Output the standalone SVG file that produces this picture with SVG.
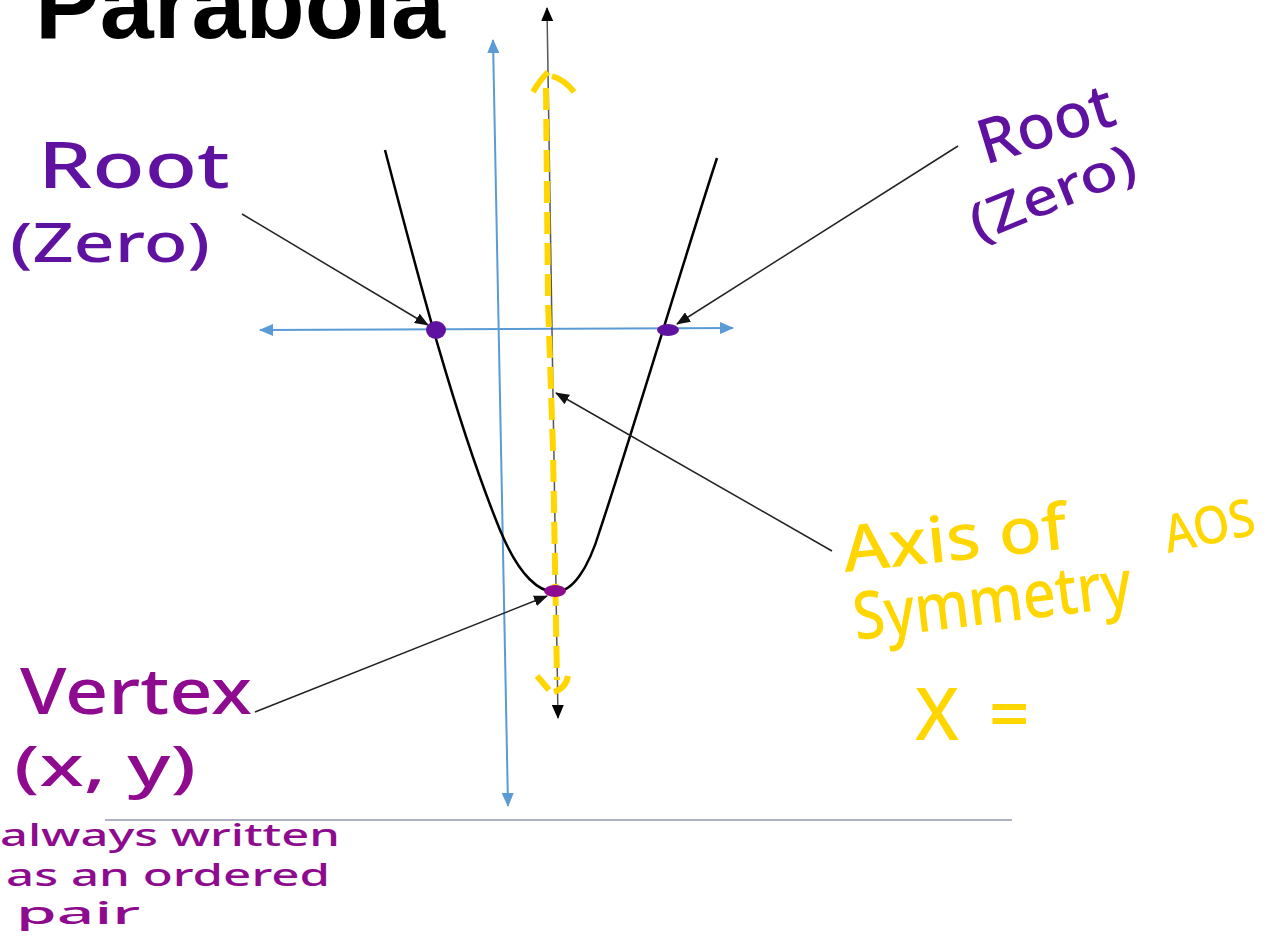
<svg xmlns="http://www.w3.org/2000/svg" width="1273" height="945" viewBox="0 0 1273 945">
<defs>
<marker id="ab" markerWidth="14" markerHeight="12" refX="13" refY="6" orient="auto-start-reverse" markerUnits="userSpaceOnUse"><path d="M0,0 L14,6 L0,12 Z" fill="#5b9bd5"/></marker>
<marker id="ak" markerWidth="14" markerHeight="12" refX="13" refY="6" orient="auto-start-reverse" markerUnits="userSpaceOnUse"><path d="M0,0 L14,6 L0,12 Z" fill="#000"/></marker>
<marker id="ap" markerWidth="14" markerHeight="11" refX="13" refY="5.5" orient="auto" markerUnits="userSpaceOnUse"><path d="M0,0 L14,5.5 L0,11 Z" fill="#111"/></marker>
</defs>
<style>
.ax{stroke:#5b9bd5;stroke-width:2;fill:none}
.pt{stroke:#222;stroke-width:1.5;fill:none}
text.h{font-family:"Noto Sans","Liberation Sans",sans-serif;font-weight:500}
.hp{fill:#5f11a0}
.hm{fill:#8e0a8e}
.hy{fill:#ffd600}
.yd{stroke:#ffd600;stroke-width:6;fill:none;stroke-linecap:butt}
</style>
<rect width="1273" height="945" fill="#fff"/>
<g id="title"><text x="35" y="38" font-family="'Liberation Sans',Arial,sans-serif" font-weight="bold" font-size="97" textLength="410" fill="#000">Parabola</text></g>
<g id="axes">
<line class="ax" x1="493" y1="40" x2="508" y2="806" marker-start="url(#ab)" marker-end="url(#ab)"/>
<line class="ax" x1="260" y1="330" x2="733" y2="328" marker-start="url(#ab)" marker-end="url(#ab)"/>
<line x1="105" y1="820" x2="1012" y2="820" stroke="#adb3bf" stroke-width="2"/>
</g>
<g id="symmetry-line">
<line x1="547" y1="8" x2="558" y2="718" stroke="#555" stroke-width="1.5" marker-start="url(#ak)" marker-end="url(#ak)"/>
</g>
<g id="parabola">
<path d="M385,150 C415,265 455,420 500,530 C520,578 540,592 555,592 C572,592 588,570 600,530 C630,440 690,240 717,158" stroke="#000" stroke-width="2.5" fill="none"/>
</g>
<g id="yellow-axis">
<path class="yd" d="M546,88 L548,300 L553,450 L557,680" stroke-dasharray="22,9"/>
<path class="yd" d="M533,92 Q540,80 548,72 M552,76 Q565,80 574,92"/>
<path class="yd" d="M537,676 L549,690 M554,692 Q566,688 568,676"/>
</g>
<g id="points">
<ellipse cx="436" cy="330" rx="10" ry="9" fill="#5f11a0"/>
<ellipse cx="668" cy="330" rx="11" ry="6" fill="#5f11a0"/>
<ellipse cx="555" cy="591" rx="11" ry="6" fill="#8e0a8e"/>
</g>
<g id="connectors">
<line class="pt" x1="242" y1="214" x2="428" y2="325" marker-end="url(#ap)"/>
<line class="pt" x1="958" y1="146" x2="677" y2="324" marker-end="url(#ap)"/>
<line class="pt" x1="832" y1="551" x2="556" y2="393" marker-end="url(#ap)"/>
<line class="pt" x1="255" y1="712" x2="547" y2="596" marker-end="url(#ap)"/>
</g>
<g id="label-root-left">
<text class="h hp" x="38" y="188" font-size="64" textLength="192" lengthAdjust="spacingAndGlyphs">Root</text>
<text class="h hp" x="10" y="262" font-size="54" textLength="200" lengthAdjust="spacingAndGlyphs">(Zero)</text>
</g>
<g id="label-root-right">
<text class="h hp" x="985" y="165" font-size="62" textLength="140" lengthAdjust="spacingAndGlyphs" transform="rotate(-17 985 165)">Root</text>
<text class="h hp" x="978" y="242" font-size="52" textLength="175" lengthAdjust="spacingAndGlyphs" transform="rotate(-22 978 242)">(Zero)</text>
</g>
<g id="label-vertex">
<text class="h hm" x="20" y="714" font-size="64" textLength="232" lengthAdjust="spacingAndGlyphs">Vertex</text>
<text class="h hm" x="14" y="786" font-size="56" textLength="182" lengthAdjust="spacingAndGlyphs">(x, y)</text>
<text class="h hm" x="0" y="846" font-size="30" textLength="340" lengthAdjust="spacingAndGlyphs">always written</text>
<text class="h hm" x="6" y="886" font-size="30" textLength="324" lengthAdjust="spacingAndGlyphs">as an ordered</text>
<text class="h hm" x="16" y="924" font-size="30" textLength="124" lengthAdjust="spacingAndGlyphs">pair</text>
</g>
<g id="label-axis">
<text class="h hy" x="845" y="572" font-size="64" textLength="225" lengthAdjust="spacingAndGlyphs" transform="rotate(-6 845 572)">Axis of</text>
<text class="h hy" x="1168" y="553" font-size="52" textLength="92" lengthAdjust="spacingAndGlyphs" transform="rotate(-12 1168 553)">AOS</text>
<text class="h hy" x="856" y="640" font-size="66" textLength="280" lengthAdjust="spacingAndGlyphs" transform="rotate(-7 856 640)">Symmetry</text>
<text class="h hy" x="915" y="740" font-size="72" textLength="115">X=</text>
</g>
</svg>
